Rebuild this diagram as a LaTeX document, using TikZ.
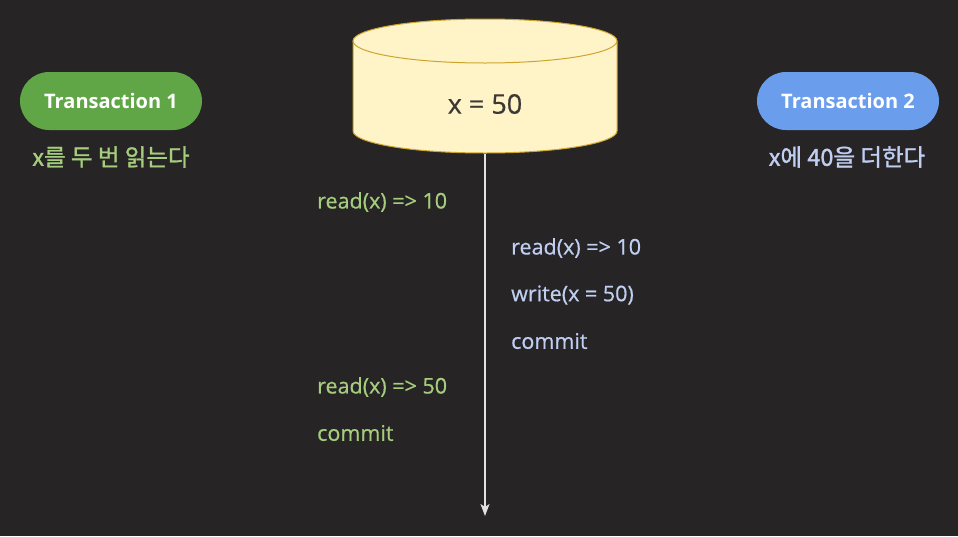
\documentclass[tikz,border=0pt]{standalone}
\usepackage{fontspec}
\setmainfont{Open Sans}
\newfontfamily\kr[RawFeature={embolden=1.3}]{Noto Sans CJK KR}
\newfontfamily\opfont[RawFeature={embolden=0.6}]{Open Sans}
\usetikzlibrary{arrows.meta}
\definecolor{bg}{RGB}{38,36,37}
\definecolor{pillgreen}{RGB}{96,166,70}
\definecolor{pillblue}{RGB}{106,158,236}
\definecolor{txtgreen}{RGB}{165,205,125}
\definecolor{txtblue}{RGB}{192,206,242}
\definecolor{dbfill}{RGB}{255,243,200}
\definecolor{dbedge}{RGB}{205,165,45}
\definecolor{dbtext}{RGB}{60,56,52}
\definecolor{arrowc}{RGB}{225,225,225}
\tikzset{
  pill/.style={rounded corners=29pt, minimum width=182pt, minimum height=58pt, inner sep=0pt, text=white, font=\fontsize{20}{22}\selectfont\bfseries},
  sublabel/.style={font=\kr\fontsize{23.5}{25}\selectfont, inner sep=0pt},
  opt/.style={font=\opfont\fontsize{21.5}{23}\selectfont, anchor=west, inner sep=0pt},
}
\begin{document}
\begin{tikzpicture}[x=1pt,y=-1pt]
\fill[bg] (0,0) rectangle (958,536);
\useasboundingbox (0,0) rectangle (958,536);
% pills
\node[pill, fill=pillgreen] (t1) at (111,101) {Transaction 1};
\node[pill, fill=pillblue] (t2) at (848,101) {Transaction 2};
\node[sublabel, text=txtgreen] (s1) at (111,157) {x를 두 번 읽는다};
\node[sublabel, text=txtblue] (s2) at (847,157) {x에 40을 더한다};
% database cylinder
\fill[dbfill] (353,41) -- (353,131) arc (180:0:132 and 22) -- (617,41) arc (0:-180:132 and 22) -- cycle;
\draw[dbedge, line width=1pt] (353,41) -- (353,131) arc (180:0:132 and 22) -- (617,41);
\draw[dbedge, line width=1pt] (485,41) ellipse (132 and 22);
\node[font=\opfont\fontsize{27}{29}\selectfont, text=dbtext] (db) at (485,104) {x = 50};
\coordinate (dbbottom) at (485,154);
\coordinate (timeend) at (485,516);
\draw[arrowc, line width=1.6pt, -{Stealth[length=12pt,width=9pt,inset=3pt]}] (dbbottom) -- (timeend);
% operations
\node[opt, text=txtgreen] (a1) at (317,202) {read(x) => 10};
\node[opt, text=txtblue] (b1) at (511,248) {read(x) => 10};
\node[opt, text=txtblue] (b2) at (511,295) {write(x = 50)};
\node[opt, text=txtblue] (b3) at (511,341) {commit};
\node[opt, text=txtgreen] (a2) at (317,387) {read(x) => 50};
\node[opt, text=txtgreen] (a3) at (317,433) {commit};
\end{tikzpicture}
\end{document}
